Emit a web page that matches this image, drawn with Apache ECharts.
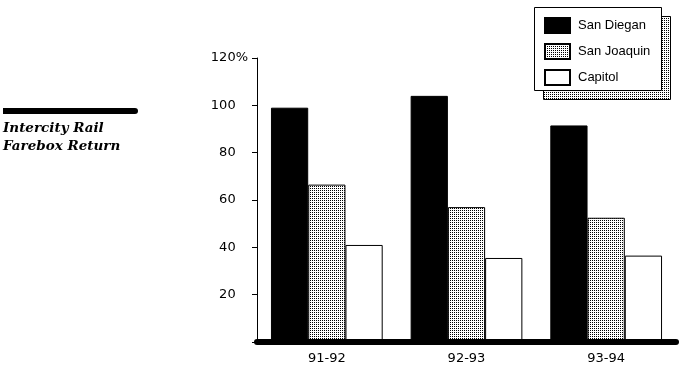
<!DOCTYPE html>
<html>
<head>
<meta charset="utf-8">
<script src="https://cdn.jsdelivr.net/npm/echarts@6/dist/echarts.min.js"></script>
<style>
html,body{margin:0;padding:0;background:#fff;}
#chart{width:679px;height:376px;}
</style>
</head>
<body>
<div id="chart"></div>
<script>
var categories = ['91-92', '92-93', '93-94'];
var sanDiegan = [99, 104, 91.5];
var sanJoaquin = [66.5, 57, 52.5];
var capitol = [41, 35.5, 36.5];
var seriesNames = ['San Diegan', 'San Joaquin', 'Capitol'];
var yTicks = [0, 20, 40, 60, 80, 100, 120];

function makeStipple() {
  var c = document.createElement('canvas');
  c.width = 2; c.height = 2;
  var ctx = c.getContext('2d');
  ctx.fillStyle = '#fff';
  ctx.fillRect(0, 0, 2, 2);
  ctx.fillStyle = '#000';
  ctx.fillRect(0, 0, 1, 1);
  return c;
}
var stipple = { image: makeStipple(), repeat: 'repeat' };

var chart = echarts.init(document.getElementById('chart'), null, { renderer: 'canvas' });
var sansFont = 'DejaVu Sans';

chart.setOption({
  animation: false,
  backgroundColor: '#fff',
  grid: { left: 257, right: 3, top: 58, bottom: 34, containLabel: false },
  xAxis: {
    type: 'category',
    z: 5,
    data: categories,
    axisLine: { lineStyle: { color: '#000', width: 6 } },
    axisTick: { show: false },
    axisLabel: { color: '#000', fontFamily: sansFont, fontSize: 13, margin: 10 }
  },
  yAxis: {
    type: 'value',
    min: yTicks[0],
    max: yTicks[yTicks.length - 1],
    interval: 20,
    splitLine: { show: false },
    axisLine: { show: true, lineStyle: { color: '#000', width: 1 } },
    axisTick: { show: true, length: 5, lineStyle: { color: '#000' } },
    axisLabel: {
      color: '#000', fontFamily: sansFont, fontSize: 13, margin: 9,
      formatter: function (v) {
        if (v === 0) return '';
        if (v === 120) return v + '{p|%}';
        return v + '{h|%}';
      },
      rich: {
        p: { color: '#000', fontFamily: sansFont, fontSize: 13 },
        h: { color: 'rgba(0,0,0,0)', fontFamily: sansFont, fontSize: 13 }
      }
    }
  },
  legend: {
    orient: 'vertical',
    left: 534,
    top: 7,
    padding: [10, 12, 10, 10],
    itemGap: 9,
    itemWidth: 25,
    itemHeight: 15,
    icon: 'rect',
    z: 10,
    textStyle: { color: '#000', fontFamily: 'Liberation Sans', fontSize: 13, padding: [0, 0, 0, 3] },
    data: seriesNames
  },
  graphic: [
    { type: 'rect', z: 1, shape: { x: 543.5, y: 16.5, width: 127, height: 83 },
      style: { fill: stipple, stroke: '#000', lineWidth: 1 } },
    { type: 'rect', z: 2, shape: { x: 534.5, y: 7.5, width: 127, height: 83 },
      style: { fill: '#fff', stroke: '#000', lineWidth: 1 } },
    { type: 'rect', z: 2, shape: { x: 3, y: 108, width: 135, height: 6, r: [0, 3, 3, 0] },
      style: { fill: '#000' } },
    { type: 'text', z: 2, left: 3, top: 119,
      style: { text: 'Intercity Rail\nFarebox Return', fill: '#000',
        font: 'italic bold 13.5px "DejaVu Serif"', lineHeight: 18.5 } }
  ],
  series: [
    { name: seriesNames[0], type: 'bar', data: sanDiegan, barGap: '0%', barCategoryGap: '20%',
      itemStyle: { color: '#000', borderColor: '#000', borderWidth: 1 } },
    { name: seriesNames[1], type: 'bar', data: sanJoaquin, barGap: '0%', barCategoryGap: '20%',
      itemStyle: { color: stipple, borderColor: '#000', borderWidth: 1 } },
    { name: seriesNames[2], type: 'bar', data: capitol, barGap: '0%', barCategoryGap: '20%',
      itemStyle: { color: '#fff', borderColor: '#000', borderWidth: 1 } }
  ]
});
</script>
</body>
</html>
